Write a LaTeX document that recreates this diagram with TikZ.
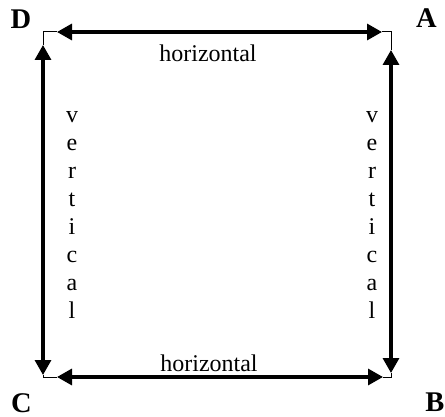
\documentclass[tikz,border=0pt]{standalone}
\usepackage{fontspec}
\setmainfont{Liberation Serif}
\usetikzlibrary{arrows.meta}
\begin{document}
\begin{tikzpicture}[x=1pt,y=1pt,
  thickarrow/.style={line width=3.2pt,{Triangle[length=15pt,width=16pt]}-{Triangle[length=15pt,width=16pt]}},
  thinline/.style={line width=1pt},
  corner/.style={font=\fontsize{28.5}{30}\selectfont\bfseries,inner sep=0pt},
  txt/.style={font=\fontsize{24}{28}\selectfont,inner sep=0pt},
  vtxt/.style={font=\fontsize{24}{28}\selectfont,inner sep=0pt,align=center}]
\useasboundingbox (0,0) rectangle (445,416);
% corners
\coordinate (cD) at (43,384);
\coordinate (cA) at (391,384);
\coordinate (cC) at (43,39);
\coordinate (cB) at (392,39);
% arrow ends
\coordinate (tL) at (57,384);
\coordinate (tR) at (382,384);
\coordinate (bL) at (57,39);
\coordinate (bR) at (383,39);
\coordinate (lT) at (43,371);
\coordinate (lB) at (43,41);
\coordinate (rT) at (391,366);
\coordinate (rB) at (391,43);
% thin corner lines
\draw[thinline] (lT) |- (tL);
\draw[thinline] (tR) -| (rT);
\draw[thinline] (lB) |- (bL);
\draw[thinline] (bR) -| (rB);
% thick arrows
\draw[thickarrow] (tL) -- (tR);
\draw[thickarrow] (bL) -- (bR);
\draw[thickarrow] (lT) -- (lB);
\draw[thickarrow] (rT) -- (rB);
% labels
\node[corner] (D) at (21,397) {D};
\node[corner] (A) at (426.5,398) {A};
\node[corner] (C) at (21.5,13) {C};
\node[corner] (B) at (435,13.5) {B};
\node[txt] (ht) at (208,363) {horizontal};
\node[txt] (hb) at (209,53) {horizontal};
\node[vtxt] (vl) at (72,201) {v\\e\\r\\t\\i\\c\\a\\l};
\node[vtxt] (vr) at (372,201) {v\\e\\r\\t\\i\\c\\a\\l};
\end{tikzpicture}
\end{document}
